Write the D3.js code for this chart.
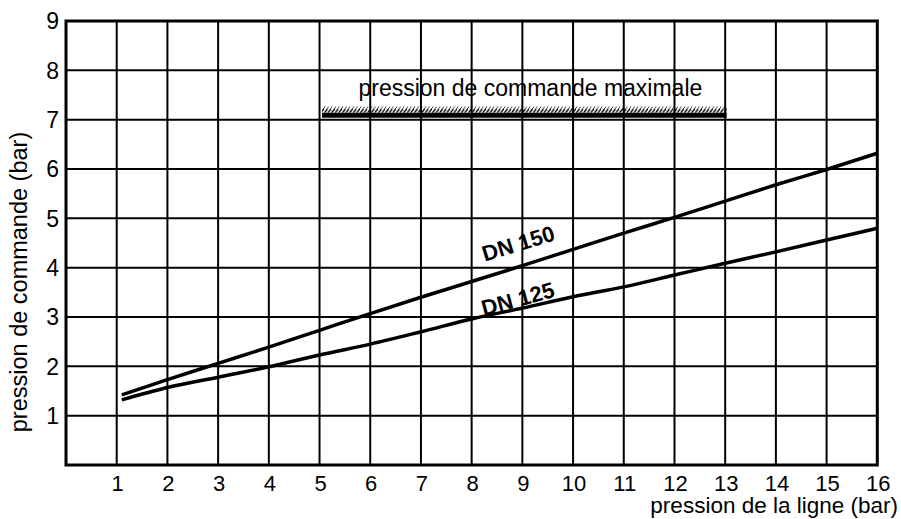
<!DOCTYPE html>
<html>
<head>
<meta charset="utf-8">
<script src="https://cdn.jsdelivr.net/npm/d3@7"></script>
<style>
  body { margin: 0; background: #fff; }
  svg text { font-family: "Liberation Sans", Arial, sans-serif; fill: #000; }
</style>
</head>
<body>
<svg id="chart"></svg>
<script>
// Chart size
const width = 901;
const height = 519;

// Axis ticks
const xTicks = d3.range(1, 17);
const yTicks = d3.range(1, 10);

// Line pressure (bar) for both curves
const linePressure = [1.1, 2, 3, 4, 5, 6, 7, 8, 9, 10, 11, 12, 13, 14, 15, 16];

// Control pressure (bar)
const dn150 = [1.42, 1.73, 2.06, 2.39, 2.73, 3.07, 3.40, 3.72, 4.04, 4.37, 4.70, 5.02, 5.35, 5.68, 5.99, 6.32];
const dn125 = [1.32, 1.57, 1.78, 1.99, 2.23, 2.45, 2.70, 2.96, 3.18, 3.41, 3.61, 3.85, 4.09, 4.32, 4.56, 4.80];

// Max control pressure band
const maxPressure = 7.09;
const maxRange = [5.05, 13.03];

const svg = d3.select("#chart")
    .attr("width", width)
    .attr("height", height);

// Scales (domain 0..16 / 0..9)
const x = d3.scaleLinear().domain([0, 16]).range([66, 877.3]);
const y = d3.scaleLinear().domain([0, 9]).range([465, 21]);

// Hatch pattern for the max pressure band
const defs = svg.append("defs");
const pat = defs.append("pattern")
    .attr("id", "hatch")
    .attr("patternUnits", "userSpaceOnUse")
    .attr("width", 3.6)
    .attr("height", 6);
pat.append("line")
    .attr("x1", -0.8).attr("y1", 6.5)
    .attr("x2", 4.4).attr("y2", -0.5)
    .attr("stroke", "#000")
    .attr("stroke-width", 1.3);

// Grid lines
const grid = svg.append("g")
    .attr("stroke", "#000")
    .attr("stroke-width", 2);

grid.selectAll("line.v")
    .data(xTicks.slice(0, -1))
    .enter().append("line")
    .attr("class", "v")
    .attr("x1", d => x(d)).attr("x2", d => x(d))
    .attr("y1", y(0)).attr("y2", y(9));

grid.selectAll("line.h")
    .data(yTicks.slice(0, -1))
    .enter().append("line")
    .attr("class", "h")
    .attr("x1", x(0)).attr("x2", x(16))
    .attr("y1", d => y(d)).attr("y2", d => y(d));

// Frame
svg.append("rect")
    .attr("x", x(0)).attr("y", y(9))
    .attr("width", x(16) - x(0))
    .attr("height", y(0) - y(9))
    .attr("fill", "none")
    .attr("stroke", "#000")
    .attr("stroke-width", 3);

// Tick labels
svg.append("g")
    .selectAll("text")
    .data(xTicks)
    .enter().append("text")
    .attr("x", d => x(d) + 1)
    .attr("y", y(0) + 26)
    .attr("text-anchor", "middle")
    .attr("font-size", 22)
    .text(d => d);

svg.append("g")
    .selectAll("text")
    .data(yTicks)
    .enter().append("text")
    .attr("x", x(0) - 7)
    .attr("y", d => y(d))
    .attr("dy", "0.36em")
    .attr("text-anchor", "end")
    .attr("font-size", 23)
    .text(d => d);

// Axis titles
svg.append("text")
    .attr("x", 898)
    .attr("y", 513)
    .attr("text-anchor", "end")
    .attr("font-size", 22.5)
    .text("pression de la ligne (bar)");

svg.append("text")
    .attr("transform", "translate(27,282) rotate(-90)")
    .attr("text-anchor", "middle")
    .attr("font-size", 23.5)
    .text("pression de commande (bar)");

// Max pressure band: hatch + thick bar
svg.append("rect")
    .attr("x", x(maxRange[0]))
    .attr("y", y(maxPressure) - 8.5)
    .attr("width", x(maxRange[1]) - x(maxRange[0]))
    .attr("height", 6)
    .attr("fill", "url(#hatch)");

svg.append("rect")
    .attr("x", x(maxRange[0]))
    .attr("y", y(maxPressure) - 2.5)
    .attr("width", x(maxRange[1]) - x(maxRange[0]))
    .attr("height", 5)
    .attr("fill", "#000");

svg.append("text")
    .attr("x", (x(maxRange[0]) + x(maxRange[1])) / 2 + 6)
    .attr("y", y(maxPressure) - 19)
    .attr("text-anchor", "middle")
    .attr("font-size", 23)
    .text("pression de commande maximale");

// Curves
const line = d3.line()
    .x(d => x(d[0]))
    .y(d => y(d[1]))
    .curve(d3.curveMonotoneX);

[dn150, dn125].forEach(series => {
    svg.append("path")
        .datum(linePressure.map((p, i) => [p, series[i]]))
        .attr("d", line)
        .attr("fill", "none")
        .attr("stroke", "#000")
        .attr("stroke-width", 3.5);
});

// Curve labels
svg.append("text")
    .attr("transform", `translate(${x(8.26)},${y(4.12)}) rotate(-17)`)
    .attr("font-size", 22)
    .attr("font-weight", "bold")
    .text("DN 150");

svg.append("text")
    .attr("transform", `translate(${x(8.24)},${y(3.02)}) rotate(-15)`)
    .attr("font-size", 22)
    .attr("font-weight", "bold")
    .text("DN 125");
</script>
</body>
</html>
